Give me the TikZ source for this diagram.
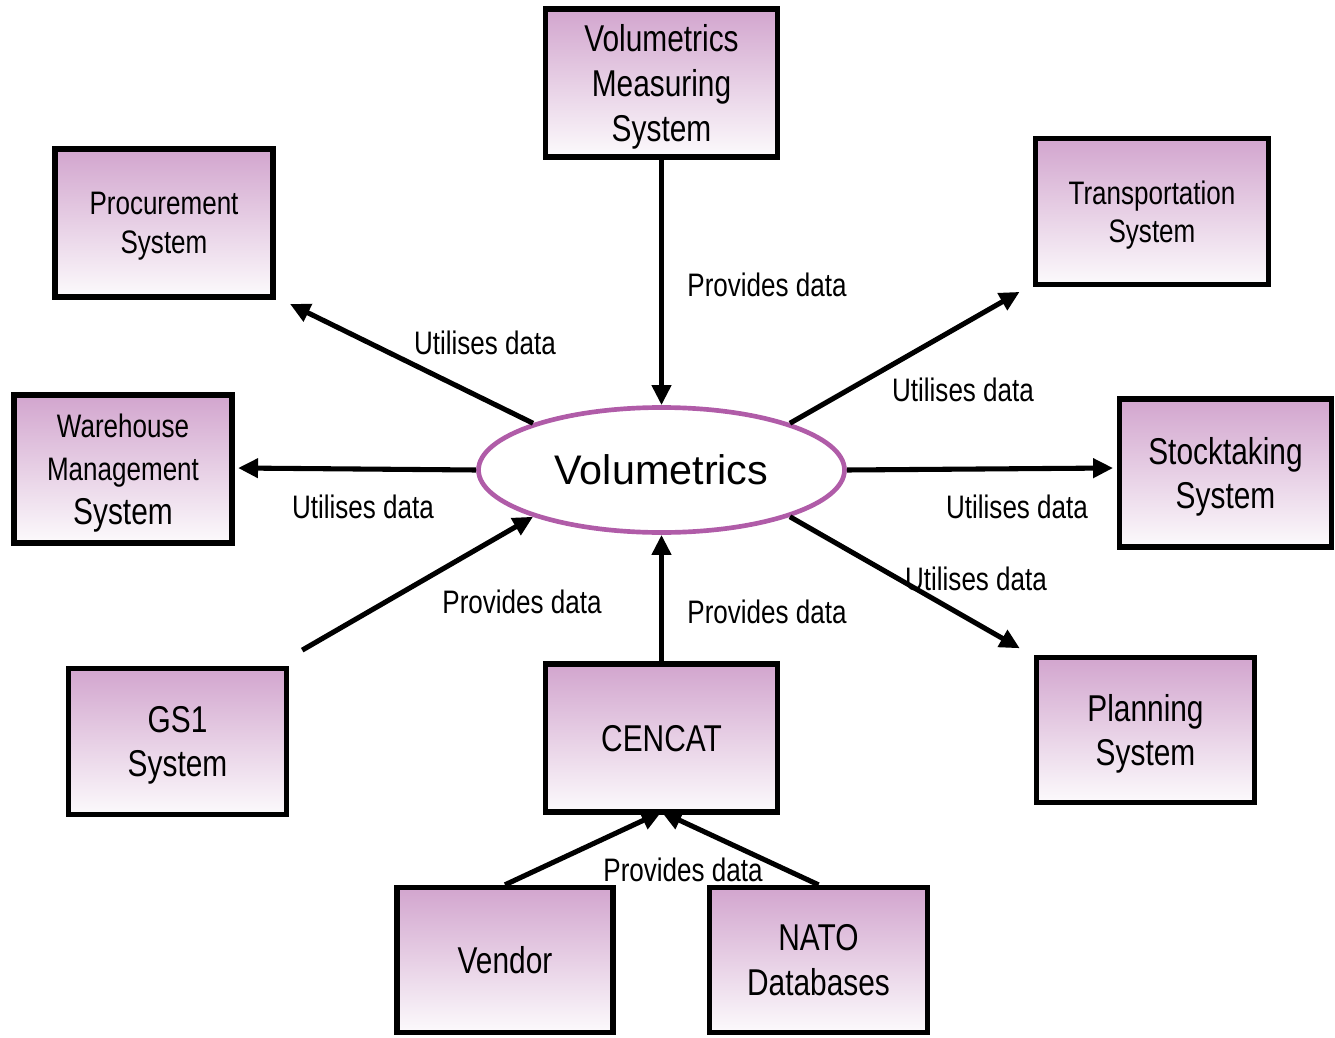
\documentclass[tikz,border=0pt]{standalone}
\usepackage{fontspec}
\setmainfont{Liberation Sans}
\newfontfamily\narrowfont[FakeStretch=0.8]{Liberation Sans}
\usetikzlibrary{shapes.geometric,arrows.meta}

\definecolor{boxtop}{HTML}{D2A5CE}
\definecolor{boxbottom}{HTML}{FCFAFC}
\definecolor{ringpurple}{HTML}{B05CA8}

\newcommand{\bigtxt}{\narrowfont\fontsize{28}{33.6}\selectfont}
\newcommand{\smalltxt}{\narrowfont\fontsize{24.4}{28.8}\selectfont}
\newcommand{\mixtxt}{\narrowfont\fontsize{24.4}{32.5}\selectfont}

\tikzset{
  sysbox/.style={draw=black, line width=3.8pt, rectangle, align=center,
    top color=boxtop, bottom color=boxbottom, inner sep=0pt,
    text depth=0pt, minimum height=111pt},
  hub/.style={draw=ringpurple, line width=3.5pt, ellipse, fill=white,
    minimum width=274.5pt, minimum height=93.75pt, inner sep=0pt,
    font=\fontsize{31}{36}\selectfont},
  flow/.style={line width=3.8pt, -{Triangle[length=15pt,width=14pt]}},
  tag/.style={font=\smalltxt, inner sep=0pt}
}

\begin{document}
\begin{tikzpicture}[x=0.75pt, y=-0.75pt]
  \useasboundingbox (0,0) rectangle (1335,1038);

  % central element
  \node[hub] (vol) at (661.5,470) {Volumetrics};

  % surrounding systems
  \node[sysbox, minimum width=173.5pt, font=\bigtxt] (vms) at (661.5,83)
    {Volumetrics\\Measuring\\System};
  \node[sysbox, minimum width=163.5pt, font=\smalltxt] (proc) at (164,223)
    {Procurement\\System};
  \node[sysbox, minimum width=174.5pt, minimum height=110pt, font=\smalltxt] (trans) at (1152,211.5)
    {Transportation\\System};
  \node[sysbox, minimum width=163.5pt, font=\mixtxt] (ware) at (123,469)
    {Warehouse\\Management\\{\bigtxt System}};
  \node[sysbox, minimum width=159.5pt, font=\bigtxt] (stock) at (1225.5,473)
    {Stocktaking\\System};
  \node[sysbox, minimum width=163pt, minimum height=110pt, font=\bigtxt] (gs) at (177.5,741.5)
    {GS1\\System};
  \node[sysbox, minimum width=173.5pt, font=\bigtxt] (cencat) at (661.5,738)
    {CENCAT};
  \node[sysbox, minimum width=163pt, minimum height=109pt, font=\bigtxt] (plan) at (1145.5,730)
    {Planning\\System};
  \node[sysbox, minimum width=162pt, minimum height=109pt, font=\bigtxt] (vendor) at (505,960)
    {Vendor};
  \node[sysbox, minimum width=163pt, minimum height=109pt, font=\bigtxt] (nato) at (818.5,960)
    {NATO\\Databases};

  % data flows
  \draw[flow] (vms.south) -- (vol.north);
  \draw[flow] (vol.160) -- ([shift={(14.5,4.5)}]proc.south east);
  \draw[flow] (vol.20) -- ([shift={(-13.5,4.5)}]trans.south west);
  \draw[flow] (vol.west) -- ([shift={(3.5,-1)}]ware.east);
  \draw[flow] (vol.east) -- ([shift={(-3.5,-5)}]stock.west);
  \draw[flow] ([shift={(13.5,-15.5)}]gs.north east) -- (vol.200);
  \draw[flow] (cencat.north) -- (vol.south);
  \draw[flow] (vol.340) -- ([shift={(-14.5,-6.5)}]plan.north west);
  \draw[flow] (vendor.north) -- ([yshift=2]cencat.south);
  \draw[flow] (nato.north) -- ([yshift=2]cencat.south);

  % flow labels
  \node[tag] (l1) at (767,285) {Provides data};
  \node[tag] (l2) at (485,343) {Utilises data};
  \node[tag] (l3) at (963,390) {Utilises data};
  \node[tag] (l4) at (363,507) {Utilises data};
  \node[tag] (l5) at (1017,507) {Utilises data};
  \node[tag] (l6) at (522,602) {Provides data};
  \node[tag] (l7) at (767,612) {Provides data};
  \node[tag] (l8) at (976,579) {Utilises data};
  \node[tag] (l9) at (683,870) {Provides data};
\end{tikzpicture}
\end{document}
